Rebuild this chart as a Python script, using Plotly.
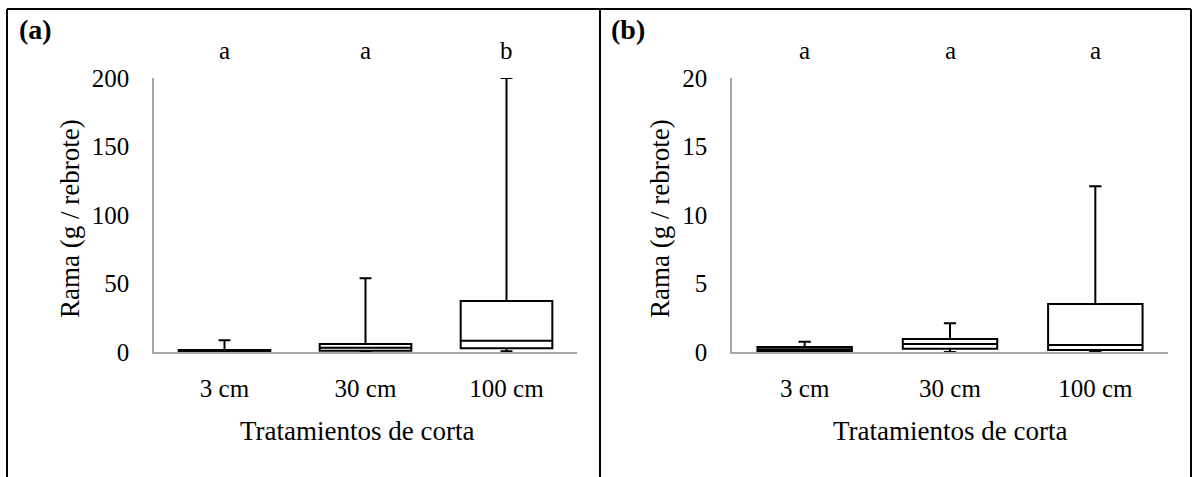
import plotly.graph_objects as go

# Cutting treatments
categories = ["3 cm", "30 cm", "100 cm"]

# Panel (a): branch biomass, box statistics per treatment
a_min = [0.0, 0.5, 0.5]
a_q1 = [0.3, 1.0, 2.7]
a_median = [0.8, 3.1, 8.2]
a_q3 = [1.5, 5.8, 37.2]
a_max = [8.5, 53.8, 200.0]
a_letters = ["a", "a", "b"]

# Panel (b): branch biomass, box statistics per treatment
b_min = [0.0, 0.0, 0.05]
b_q1 = [0.05, 0.24, 0.15]
b_median = [0.2, 0.58, 0.51]
b_q3 = [0.37, 0.95, 3.5]
b_max = [0.75, 2.1, 12.1]
b_letters = ["a", "a", "a"]

W, H = 1193, 477
FONT = "Liberation Serif, Times New Roman, serif"
AXIS_GREY = "#a6a6a6"


def px_x(p):
    return p / W


def px_y(p):
    return 1 - p / H


fig = go.Figure()

for xa, ya, lo, q1, med, q3, hi in [
    ("x", "y", a_min, a_q1, a_median, a_q3, a_max),
    ("x2", "y2", b_min, b_q1, b_median, b_q3, b_max),
]:
    fig.add_trace(go.Box(
        x=categories, q1=q1, median=med, q3=q3,
        lowerfence=lo, upperfence=hi,
        xaxis=xa, yaxis=ya,
        boxpoints=False,
        line=dict(color="black", width=2),
        fillcolor="white",
        width=0.65,
        whiskerwidth=0.13,
        showlegend=False,
        hoverinfo="skip",
    ))

y_dom = [px_y(352), px_y(78)]
common_x = dict(
    type="category", range=[-0.5, 2.5], showline=True, linecolor=AXIS_GREY,
    linewidth=1.5, ticks="", showgrid=False, zeroline=False,
    tickfont=dict(family=FONT, size=25, color="black"),
    ticklabelstandoff=13,
)
common_y = dict(
    showline=True, linecolor=AXIS_GREY, linewidth=1.5, ticks="",
    showgrid=False, zeroline=False,
    tickfont=dict(family=FONT, size=25, color="black"),
    ticklabelstandoff=18,
)

fig.update_layout(
    width=W, height=H,
    margin=dict(l=0, r=0, t=0, b=0, autoexpand=False),
    paper_bgcolor="white", plot_bgcolor="white",
    xaxis=dict(domain=[px_x(154), px_x(577)], anchor="y", **common_x),
    yaxis=dict(domain=y_dom, anchor="x", range=[0, 200],
               tickvals=[0, 50, 100, 150, 200], **common_y),
    xaxis2=dict(domain=[px_x(732), px_x(1168)], anchor="y2", **common_x),
    yaxis2=dict(domain=y_dom, anchor="x2", range=[0, 20],
                tickvals=[0, 5, 10, 15, 20], **common_y),
)

annotations = []
# significance letters above each box
for xr, letters in [("x", a_letters), ("x2", b_letters)]:
    for cat, letter in zip(categories, letters):
        annotations.append(dict(
            x=cat, y=px_y(50), xref=xr, yref="paper", text=letter,
            showarrow=False, font=dict(family=FONT, size=25, color="black"),
            xanchor="center", yanchor="middle",
        ))

for cx, ytx in [(357, 70), (950, 660)]:
    annotations.append(dict(
        x=px_x(cx), y=px_y(431), xref="paper", yref="paper",
        text="Tratamientos de corta", showarrow=False,
        font=dict(family=FONT, size=27, color="black"),
        xanchor="center", yanchor="middle",
    ))
    annotations.append(dict(
        x=px_x(ytx), y=px_y(219), xref="paper", yref="paper",
        text="Rama (g / rebrote)", showarrow=False, textangle=-90,
        font=dict(family=FONT, size=27, color="black"),
        xanchor="center", yanchor="middle",
    ))

for lx, label in [(17, "(a)"), (609, "(b)")]:
    annotations.append(dict(
        x=px_x(lx), y=px_y(30), xref="paper", yref="paper",
        text=f"<b>{label}</b>", showarrow=False,
        font=dict(family=FONT, size=28, color="black"),
        xanchor="left", yanchor="middle",
    ))

fig.update_layout(annotations=annotations)

# table frame around the two panels
frame = dict(color="black", width=2)
shapes = [
    dict(type="line", xref="paper", yref="paper",
         x0=px_x(7), x1=px_x(1191), y0=px_y(9), y1=px_y(9), line=frame),
]
for vx in [7, 600, 1191]:
    shapes.append(dict(type="line", xref="paper", yref="paper",
                       x0=px_x(vx), x1=px_x(vx), y0=px_y(9), y1=0, line=frame))
fig.update_layout(shapes=shapes)

fig.write_html("out.html")
